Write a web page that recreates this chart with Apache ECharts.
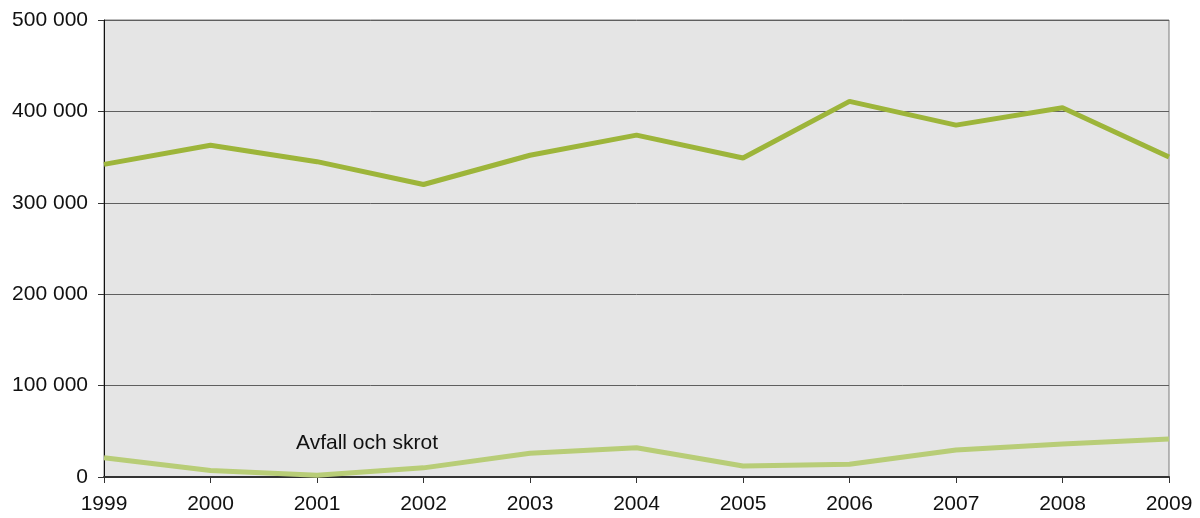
<!DOCTYPE html>
<html>
<head>
<meta charset="utf-8">
<script src="https://cdn.jsdelivr.net/npm/echarts@6/dist/echarts.min.js"></script>
<style>
  html, body { margin: 0; padding: 0; background: #fff; }
  #chart { width: 1200px; height: 518px; }
</style>
</head>
<body>
<div id="chart"></div>
<script>
// år
var years = ['1999', '2000', '2001', '2002', '2003', '2004', '2005', '2006', '2007', '2008', '2009'];
// totalt (mörkgrön linje)
var totalData = [342000, 363000, 345000, 320000, 352000, 374000, 349000, 411000, 385000, 404000, 350000];
// avfall och skrot (ljusgrön linje)
var avfallData = [21000, 7000, 2000, 10000, 26000, 32000, 12000, 14000, 29500, 36000, 41500];
var yTicks = [0, 100000, 200000, 300000, 400000, 500000];

function fmt(v) {
    return String(v).replace(/\B(?=(\d{3})+(?!\d))/g, ' ');
}

var myChart = echarts.init(document.querySelector('#chart'));
var option = {
    animation: false,
    textStyle: { fontFamily: 'Liberation Sans, Arial, sans-serif' },
    grid: {
        left: 104,
        right: 31,
        top: 20,
        bottom: 41,
        show: true,
        backgroundColor: '#e5e5e5',
        borderColor: '#7a7a7a',
        borderWidth: 1
    },
    graphic: [
        {
            type: 'text',
            left: 296,
            top: 433,
            style: { text: 'Avfall och skrot', fill: '#111', fontSize: 21, fontFamily: 'Liberation Sans, Arial, sans-serif' },
            z: 10
        }
    ],
    xAxis: {
        type: 'category',
        data: years,
        boundaryGap: false,
        axisLine: { lineStyle: { color: '#333', width: 2 } },
        axisTick: { length: 6, lineStyle: { color: '#333' } },
        axisLabel: { color: '#111', fontSize: 21, margin: 17 }
    },
    yAxis: {
        type: 'value',
        min: yTicks[0],
        max: yTicks[yTicks.length - 1],
        interval: 100000,
        axisLine: { show: true, lineStyle: { color: '#111', width: 1 } },
        axisTick: { show: true, length: 6, lineStyle: { color: '#333' } },
        splitLine: { lineStyle: { color: '#5f5f5f', width: 1 } },
        axisLabel: { color: '#111', fontSize: 21, margin: 16, formatter: fmt }
    },
    series: [
        {
            name: 'Totalt',
            type: 'line',
            data: totalData,
            symbol: 'none',
            lineStyle: { color: '#9db53a', width: 5 },
            z: 3
        },
        {
            name: 'Avfall och skrot',
            type: 'line',
            data: avfallData,
            symbol: 'none',
            lineStyle: { color: '#b8cd77', width: 5 },
            z: 3
        }
    ]
};
myChart.setOption(option, true);
</script>
</body>
</html>
